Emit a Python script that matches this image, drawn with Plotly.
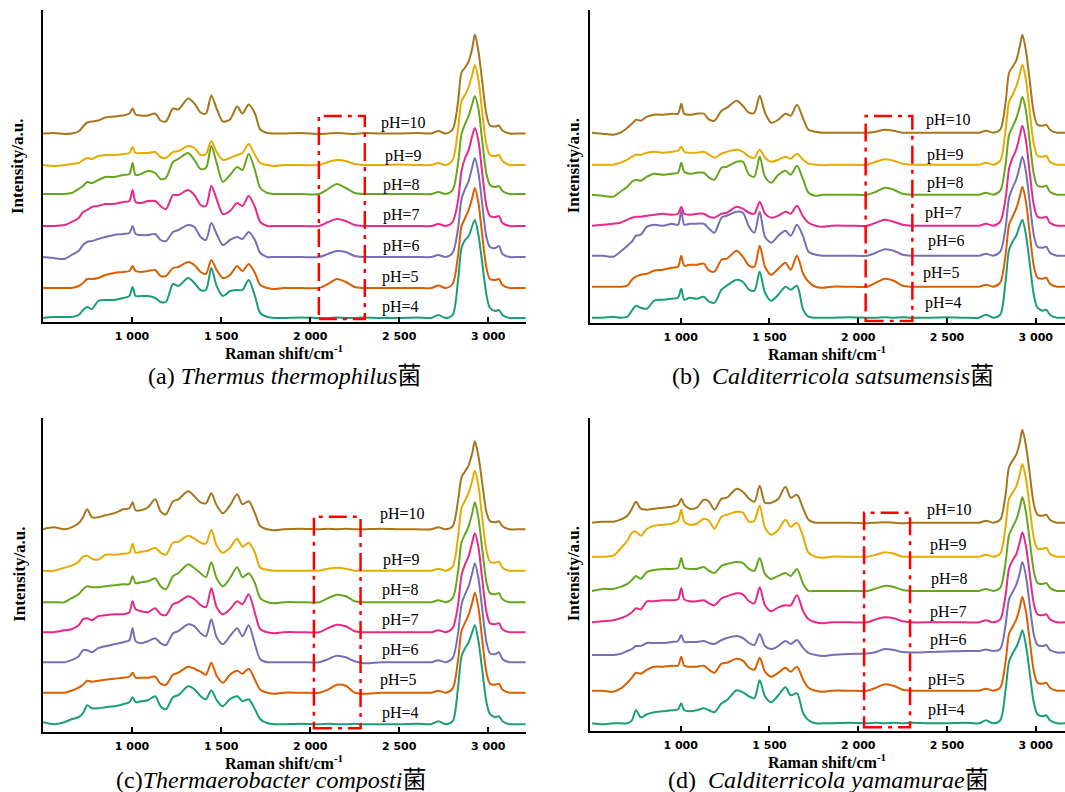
import plotly.graph_objects as go

W, H = 1065, 792

# Raman shift sampling points (cm^-1)
shift = [500, 560, 620, 660, 700, 725, 748, 775, 810, 850, 900, 950, 985, 1003, 1020, 1050, 1090, 1130, 1160, 1190,
         1230, 1260, 1315, 1350, 1385, 1415, 1445, 1475, 1510, 1550, 1590, 1620, 1655, 1690, 1720, 1760, 1800,
         1850, 1950, 2050, 2100, 2150, 2200, 2250, 2300, 2400, 2500, 2600, 2680, 2720, 2760,
         2800, 2830, 2850, 2870, 2890, 2910, 2925, 2945, 2965, 2990, 3010, 3040, 3060, 3080, 3120, 3160, 3210]

ph_labels = ["pH=4", "pH=5", "pH=6", "pH=7", "pH=8", "pH=9", "pH=10"]
colors = ["#1B9E77", "#D95F02", "#7570B3", "#E7298A", "#66A61E", "#E6AB02", "#A6761D"]

# (a) Thermus thermophilus
a_ph4 = [0, 1, 1, 1, 3, 8, 11, 9, 17, 18, 18, 20, 22, 31, 22, 22, 22, 20, 16, 16, 34, 32, 40, 35, 28, 28, 50, 32, 22, 27, 28, 28, 38, 22, 5, 1, 0,
         0, 0.5, 0, 0, 0.5, 0, 0, 0.5, 0, 0, 0.5, 0, 3, 0,
         3, 37, 70, 78, 82, 92, 98, 83, 57, 23, 10, 7, 8, 3, 0, 0, 0]
a_ph5 = [0, 0, 0, 0, 2, 5, 9, 9, 10, 13, 15, 16, 17, 22, 17, 16, 17, 18, 12, 12, 20, 21, 26, 23, 16, 14, 28, 18, 10, 13, 22, 17, 24, 15, 3, 0, -1,
         0, 0, 0, 4, 9, 6, 1, 0, 0, 0, 0, 0, 2.5, 0,
         4, 32, 62, 70, 78, 90, 100, 85, 55, 20, 9, 8, 9, 3, 0, 0, 0]
a_ph6 = [0, -1, -2, 2, 6, 12, 15, 16, 18, 20, 22, 23, 24, 31, 23, 22, 22, 23, 17, 16, 25, 27, 32, 30, 20, 17, 34, 23, 12, 17, 20, 18, 25, 17, 4, 0, 0,
         0, 0, 0, 3, 6, 5, 1, 0, 0, 0, 0, 0, 2, 0,
         4, 28, 58, 68, 76, 90, 99, 84, 55, 20, 10, 9, 11, 3, 0, 0, 0]
a_ph7 = [0, 0, 1, 4, 8, 14, 16, 19, 20, 22, 22, 24, 25, 36, 24, 23, 25, 25, 20, 17, 31, 31, 36, 31, 21, 20, 40, 27, 12, 15, 23, 20, 30, 19, 4, 0, 0,
         0, 0, 0, 4, 7, 5, 1, 0, 0, 0, 0, 0, 2, 0,
         4, 25, 55, 68, 76, 90, 98, 85, 55, 20, 10, 9, 10, 3, 0, 0, 0]
a_ph8 = [0, 0, 0, 1, 5, 8, 12, 11, 14, 17, 17, 19, 20, 31, 19, 20, 23, 21, 15, 16, 32, 35, 41, 34, 25, 26, 48, 31, 12, 19, 27, 24, 40, 24, 6, 1, 0,
         0, 0, 0, 5, 10, 6, 1, 0, 0, 0, 0, 0, 2, 0,
         4, 30, 60, 70, 78, 90, 98, 85, 55, 20, 9, 7, 8, 3, 0, 0, 0]
a_ph9 = [0, -1, 0, 1, 2, 5, 7, 6, 9, 10, 10, 11, 12, 18, 12, 12, 12, 13, 8, 7, 13, 14, 19, 17, 10, 11, 24, 13, 5, 7, 10, 12, 21, 10, 2, 0, -1,
         0, 0, 0, 3, 5, 4, 1, 0, 0, 0.5, 0, 0, 2, 0,
         5, 35, 64, 70, 78, 90, 100, 85, 55, 20, 10, 9, 10, 4, 0, 0, 0]
a_ph10 = [0, 0.5, -0.5, 0, 2, 7, 11, 12, 13, 16, 17, 18, 20, 25, 19, 18, 18, 20, 13, 12, 25, 24, 35, 30, 21, 20, 38, 25, 12, 14, 27, 20, 29, 20, 4, 0.5, 0,
          0, 0.5, -0.5, 0, 0.5, 0, -0.5, 0.5, 0, 0, 0.5, 0, 2.5, 0,
          4, 31, 61, 66, 72, 85, 99, 82, 54, 19, 8, 7, 8, 3, 0, 0, 0]

# (b) Calditerricola satsumensis
b_ph4 = [0, 0, 1, 0, 1, 7, 12, 10, 9, 17, 18, 19, 20, 29, 18, 20, 19, 21, 16, 15, 28, 32, 38, 36, 28, 27, 46, 25, 17, 23, 31, 28, 32, 8, 1, 0, 0,
         0, 0.5, 0, 0, 0.5, 0, 0.5, 0, 0, 0.5, 0, 0, 3, 0,
         3, 36, 68, 76, 82, 92, 98, 83, 56, 22, 10, 7, 8, 3, 0, 0, 0]
b_ph5 = [0, 0, 0, 0, 1, 7, 10, 12, 13, 16, 17, 19, 20, 31, 21, 22, 22, 23, 16, 15, 27, 28, 36, 30, 21, 20, 41, 20, 12, 18, 24, 17, 31, 13, 5, 0, -1,
         0, 0, 0, 4, 8, 6, 1, 0, 0, 0, 0, 0, 2, 0,
         4, 32, 62, 70, 78, 90, 100, 85, 55, 20, 9, 8, 9, 3, 0, 0, 0]
b_ph6 = [0, 0, -1, 4, 10, 14, 20, 21, 29, 31, 30, 32, 31, 45, 31, 32, 32, 32, 27, 23, 38, 40, 44, 43, 29, 23, 44, 19, 13, 20, 25, 20, 31, 19, 4, 1, 0,
         0, 0, 0, 3, 6.5, 5, 1, 0, 0, 0, 0, 0, 2, 0,
         4, 28, 58, 68, 76, 89, 99, 84, 55, 20, 9, 8, 9, 3, 0, 0, 0]
b_ph7 = [0, 1, 2, 3, 6, 8, 9, 9, 10, 11, 12, 11, 12, 19, 12, 11, 12, 12, 9, 8, 12, 13, 19, 17, 13, 12, 24, 12, 8, 10, 14, 12, 20, 9, 3, 0, -1,
         0, 0, 0, 3, 6, 4, 1, 0, 0, 0, 0, 0, 2, 0,
         4, 27, 57, 68, 76, 90, 100, 85, 55, 20, 9, 8, 9, 3, 0, 0, 0]
b_ph8 = [0, -1, -2, 3, 8, 13, 15, 14, 18, 21, 20, 21, 22, 32, 23, 21, 22, 22, 17, 15, 27, 28, 33, 33, 20, 18, 38, 18, 12, 20, 24, 20, 29, 15, 2, -1, 0,
         0, 0, 0, 3, 7, 5, 1, 0, 0, 0, 0, 0, 2, 0,
         4, 30, 60, 68, 76, 88, 98, 84, 55, 20, 9, 8, 9, 3, 0, 0, 0]
b_ph9 = [0, 0, 0, 2, 5, 8, 10, 10, 12, 13, 12, 13, 14, 18, 13, 12, 12, 13, 10, 7, 11, 13, 15, 13, 8, 7, 15, 7, 3, 5, 8, 6, 11, 5, 1, 0, -0.5,
         0, 0, 0, 3, 5.5, 4, 1, 0, 0, 0, 0, 0, 2, 0,
         4, 34, 63, 70, 78, 90, 100, 85, 55, 20, 9, 8, 9, 3, 0, 0, 0]
b_ph10 = [0, -1, -2, 0, 5, 9, 13, 12, 16, 18, 18, 19, 19, 29, 19, 18, 19, 19, 13, 12, 22, 25, 32, 27, 20, 20, 37, 20, 10, 13, 19, 17, 28, 14, 3, 1, 0,
          0, 0, 0, 1, 3, 2, 0, 0, 0, 0, 0, 0, 2, 0,
          3, 30, 60, 66, 72, 86, 98, 82, 54, 19, 8, 7, 8, 3, 0, 0, 0]

# (c) Thermaerobacter composti
c_ph4 = [2, 0, 2, 5, 7, 11, 19, 16, 16, 17, 18, 20, 22, 27, 22, 23, 24, 28, 18, 15, 27, 29, 38, 35, 28, 25, 34, 24, 18, 25, 28, 23, 25, 15, 5, 1, 0,
         0, 0.5, 0, 0.5, 0, 0, 0.5, 0, 0, 0, 0.5, 0, 3, 0,
         3, 36, 68, 76, 82, 92, 99, 83, 56, 22, 10, 7, 8, 3, 0, 0, 0]
c_ph5 = [0, 0, 0, 2, 5, 8, 12, 11, 12, 13, 14, 15, 16, 20, 15, 15, 15, 16, 9, 8, 18, 20, 26, 24, 21, 18, 30, 17, 10, 18, 22, 19, 24, 13, 3, 0, -1,
         0, 0, 0, 3, 8, 7, 0, -1, 0, 0, 0, 0, 2, 0,
         4, 32, 62, 70, 78, 90, 100, 85, 55, 20, 9, 8, 9, 3, 0, 0, 0]
c_ph6 = [0, 0, 0, 2, 6, 12, 12, 10, 14, 16, 18, 20, 22, 34, 21, 19, 21, 24, 19, 17, 29, 31, 38, 36, 29, 26, 43, 25, 18, 26, 34, 26, 37, 18, 3, 0, 0,
         0, 0, 0, 3, 6.5, 5, 1, -1, 0, 0, 0, 0, 2, 0,
         4, 28, 58, 68, 76, 89, 99, 84, 55, 20, 9, 8, 10, 3, 0, 0, 0]
c_ph7 = [0, 0, 2, 3, 7, 13, 14, 12, 16, 17, 18, 18, 20, 31, 23, 21, 20, 24, 18, 17, 28, 30, 36, 33, 27, 25, 44, 25, 18, 23, 31, 28, 38, 19, 3, 0, -1,
         0, 0, 0, 4, 7.5, 6, 1, 0, 0, 0, 0, 0, 2, 0,
         4, 27, 57, 68, 76, 90, 99, 85, 55, 20, 9, 8, 9, 3, 0, 0, 0]
c_ph8 = [0, 0, 0, 4, 8, 13, 16, 15, 15, 16, 17, 18, 18, 26, 19, 20, 21, 24, 16, 13, 26, 29, 38, 34, 29, 25, 40, 24, 16, 24, 35, 25, 29, 19, 4, 0, -1,
         0, 0, 0, 4, 7.5, 6, 1, 0, 0, 0, 0, 0, 2, 0,
         4, 30, 60, 68, 76, 89, 100, 84, 55, 20, 9, 8, 9, 3, 0, 0, 0]
c_ph9 = [0, 0, 3, 5, 9, 14, 15, 12, 11, 16, 16, 17, 18, 27, 18, 19, 20, 23, 18, 16, 28, 29, 35, 32, 28, 27, 41, 25, 18, 23, 32, 24, 28, 18, 3, 1, 0,
         0, 0, 0, 2, 3, 2, 0, 0, 0, 0, 0, 0, 2, 0,
         4, 33, 63, 70, 78, 90, 100, 85, 55, 20, 9, 8, 9, 3, 0, 0, 0]
c_ph10 = [0, 2, 0, 2, 6, 12, 20, 12, 12, 14, 16, 20, 21, 27, 19, 19, 22, 30, 18, 15, 28, 30, 38, 33, 27, 26, 36, 24, 16, 24, 35, 25, 28, 16, 3, 0, -1,
          0, 0.5, 0, 0.5, 0, 0.5, 0, 0, 0.5, 0, 0, 0, 2, 0,
          3, 28, 52, 58, 64, 76, 88, 73, 48, 17, 8, 7, 8, 3, 0, 0, 0]

# (d) Calditerricola yamamurae
d_ph4 = [0, -1, 0, 0, 0, 3, 13, 6, 9, 11, 12, 13, 14, 20, 13, 12, 13, 15, 13, 11, 20, 23, 33, 31, 27, 25, 43, 27, 21, 28, 36, 28, 30, 10, 3, 0, 0,
         0, 0.5, 0, 0.5, 0, 0.5, 0, 0.5, 0, 0, 0.5, 0, 3, 0,
         3, 33, 62, 70, 76, 85, 93, 78, 52, 20, 9, 7, 8, 3, 0, 0, 0]
d_ph5 = [0, 0, -1, 2, 8, 13, 18, 17, 21, 24, 24, 25, 25, 34, 25, 24, 24, 25, 21, 18, 27, 28, 32, 30, 23, 21, 33, 19, 14, 18, 23, 19, 24, 11, 3, 0, -1,
         0, 0, 0, 3, 6.5, 5, 1, 0, 0, 0, 0, 0, 2, 0,
         3, 29, 57, 64, 71, 83, 94, 79, 52, 19, 8, 7, 8, 3, 0, 0, 0]
d_ph6 = [0, 0, 0, 1, 4, 6, 9, 9, 12, 12, 12, 13, 14, 20, 13, 13, 13, 14, 12, 11, 15, 17, 19, 17, 12, 10, 21, 9, 6, 9, 14, 11, 15, 7, 2, 0, -1,
         0, 1, 1.5, 3, 6, 5, 3, 2.5, 3, 3.5, 4, 4, 5.5, 4,
         6, 30, 56, 63, 70, 82, 93, 79, 52, 20, 10, 9, 10, 5, 2.5, 2.5, 2.5]
d_ph7 = [0, 1, 2, 4, 7, 10, 14, 13, 21, 21, 22, 22, 23, 34, 23, 21, 21, 22, 19, 17, 24, 26, 29, 28, 21, 19, 35, 17, 11, 15, 17, 17, 27, 11, 3, 0, -1,
         0, 0, 0, 3, 5, 4, 1, 0, 0, 0, 0, 0, 2, 0,
         3, 27, 54, 62, 68, 80, 90, 76, 50, 18, 8, 7, 8, 3, 0, 0, 0]
d_ph8 = [0, 2, 2, 4, 7, 11, 15, 12, 19, 21, 22, 22, 23, 33, 23, 22, 22, 24, 20, 18, 25, 27, 29, 28, 22, 20, 33, 17, 12, 15, 18, 15, 22, 7, 0, 0, 0,
         0, 0, 0, 2.5, 5, 4, 1, 0, 0, 0, 0, 0, 2, 0,
         3, 28, 56, 64, 71, 83, 94, 79, 52, 19, 8, 7, 8, 3, 0, 0, 0]
d_ph9 = [0, 0, 1, 8, 16, 24, 25, 21, 28, 31, 32, 33, 36, 47, 35, 32, 33, 38, 36, 28, 40, 42, 45, 44, 35, 36, 51, 29, 22, 27, 37, 30, 34, 20, 4, 0, -1,
         0, 0, 0, 2, 4.5, 3, 0, 0, 0, 0, 0, 0, 2, 0,
         3, 30, 58, 64, 70, 82, 93, 78, 51, 18, 8, 8, 9, 3, 0, 0, 0]
d_ph10 = [0, 1, 1, 3, 7, 14, 21, 14, 13, 14, 15, 16, 18, 24, 18, 14, 15, 23, 21, 13, 24, 25, 34, 31, 24, 21, 37, 20, 20, 24, 36, 25, 28, 14, 3, 0, 0,
          0, 0, -0.5, 0, 0.5, 0, -0.5, 0, 0, 0, 0, 0, 2, 0,
          3, 28, 56, 62, 68, 80, 93, 77, 51, 18, 8, 7, 8, 3, 0, 0, 0]

spectra = {
    "a": [a_ph4, a_ph5, a_ph6, a_ph7, a_ph8, a_ph9, a_ph10],
    "b": [b_ph4, b_ph5, b_ph6, b_ph7, b_ph8, b_ph9, b_ph10],
    "c": [c_ph4, c_ph5, c_ph6, c_ph7, c_ph8, c_ph9, c_ph10],
    "d": [d_ph4, d_ph5, d_ph6, d_ph7, d_ph8, d_ph9, d_ph10],
}
for key, group in spectra.items():
    for s in group:
        assert len(s) == len(shift), (key, len(s))

captions = {
    "a": "(a) <i>Thermus thermophilus</i>菌",
    "b": "(b)  <i>Calditerricola satsumensis</i>菌",
    "c": "(c)<i>Thermaerobacter composti</i>菌",
    "d": "(d)  <i>Calditerricola yamamurae</i>菌",
}

tick_vals = [1000, 1500, 2000, 2500, 3000]
tick_text = ["1 000", "1 500", "2 000", "2 500", "3 000"]

# panel geometry in page pixels, x range, vertical stacking offsets, label anchors
panels = [
    dict(key="a", left=43, right=526, top=10, bottom=322, xr=[500, 3212],
         offsets=[4, 34, 65, 96, 128, 157, 188.5],
         lab_x=[2505, 2505, 2515, 2515, 2515, 2525, 2522], lab_y=[15, 45, 76, 107, 137, 166, 199],
         box=[2049, 2307, 3, 206], cap_x=146, cap_y=376, ytitle_x=18),
    dict(key="b", left=590, right=1065, top=10, bottom=322.7, xr=[489, 3165],
         offsets=[5, 36, 67, 97, 128, 158, 190],
         lab_x=[2480, 2470, 2495, 2480, 2490, 2490, 2508], lab_y=[19.4, 49.4, 82, 110, 139.4, 167.7, 202.7],
         box=[2042, 2305, 1.7, 206.7], cap_x=670, cap_y=376, ytitle_x=573),
    dict(key="c", left=43, right=526, top=418, bottom=731.7, xr=[500, 3212],
         offsets=[7.5, 39, 69.5, 99.5, 129.5, 161, 202.4],
         lab_x=[2505, 2495, 2510, 2510, 2506, 2511, 2517], lab_y=[18.4, 51.7, 81.7, 111.7, 141.7, 171.7, 217.4],
         box=[2021, 2283, 3.4, 215], cap_x=114, cap_y=780, ytitle_x=20),
    dict(key="d", left=590, right=1065, top=418, bottom=730.7, xr=[489, 3165],
         offsets=[7.4, 40, 75.7, 108.4, 139.8, 174, 208],
         lab_x=[2498, 2498, 2507, 2507, 2517, 2507, 2517], lab_y=[20.7, 50.7, 90.7, 119, 151.4, 185.7, 220.7],
         box=[2033, 2292, 3.4, 218], cap_x=666, cap_y=780, ytitle_x=573),
]

SERIF = "Times New Roman, Liberation Serif, Noto Sans CJK SC, serif"

fig = go.Figure()
annotations = []
shapes = []

for i, p in enumerate(panels):
    n = "" if i == 0 else str(i + 1)
    xa, ya = "x" + n, "y" + n
    span = p["bottom"] - p["top"]

    for k in range(7):
        base = p["offsets"][k]
        fig.add_trace(go.Scatter(
            x=shift, y=[base + v for v in spectra[p["key"]][k]],
            mode="lines", xaxis=xa, yaxis=ya, showlegend=False,
            line=dict(color=colors[k], width=2, shape="spline", smoothing=0.8),
            hoverinfo="skip",
        ))
        annotations.append(dict(
            x=p["lab_x"][k], y=p["lab_y"][k], xref=xa, yref=ya, text=ph_labels[k],
            showarrow=False, font=dict(family=SERIF, size=16, color="black"),
            xanchor="center", yanchor="middle",
        ))

    fig.layout["xaxis" + n] = dict(
        domain=[p["left"] / W, p["right"] / W], anchor=ya, range=p["xr"],
        showline=True, linecolor="black", linewidth=2, mirror=False,
        ticks="inside", ticklen=5, tickwidth=2, tickcolor="black",
        tickvals=tick_vals, ticktext=tick_text, ticklabelstandoff=3,
        tickfont=dict(family="DejaVu Sans, sans-serif", size=11, color="black", weight="bold"),
        showgrid=False, zeroline=False,
    )
    fig.layout["yaxis" + n] = dict(
        domain=[1 - p["bottom"] / H, 1 - p["top"] / H], anchor=xa, range=[0, span],
        showline=True, linecolor="black", linewidth=2,
        ticks="", showticklabels=False, showgrid=False, zeroline=False,
    )

    x0, x1, y0, y1 = p["box"]
    shapes.append(dict(
        type="rect", xref=xa, yref=ya, x0=x0, x1=x1, y0=y0, y1=y1,
        line=dict(color="#FF0000", width=2.5, dash="18px,6px,4px,6px"),
        fillcolor="rgba(0,0,0,0)", layer="above",
    ))

    cx = (p["left"] + p["right"]) / 2
    annotations.append(dict(
        x=cx / W, y=1 - (p["bottom"] + 30) / H, xref="paper", yref="paper",
        text="<b>Raman shift/cm<sup>-1</sup></b>", showarrow=False,
        font=dict(family=SERIF, size=16, color="black"), xanchor="center", yanchor="middle",
    ))
    annotations.append(dict(
        x=p["ytitle_x"] / W, y=1 - (p["top"] + p["bottom"]) / 2 / H, xref="paper", yref="paper",
        text="<b>Intensity/a.u.</b>", textangle=-90, showarrow=False,
        font=dict(family=SERIF, size=17, color="black"), xanchor="center", yanchor="middle",
    ))
    annotations.append(dict(
        x=p["cap_x"] / W, y=1 - p["cap_y"] / H, xref="paper", yref="paper",
        text=captions[p["key"]], showarrow=False,
        font=dict(family=SERIF, size=24, color="black"), xanchor="left", yanchor="middle",
    ))

fig.update_layout(
    width=W, height=H, margin=dict(l=0, r=0, t=0, b=0),
    paper_bgcolor="white", plot_bgcolor="white",
    annotations=annotations, shapes=shapes, showlegend=False,
)

fig.write_html("out.html")
